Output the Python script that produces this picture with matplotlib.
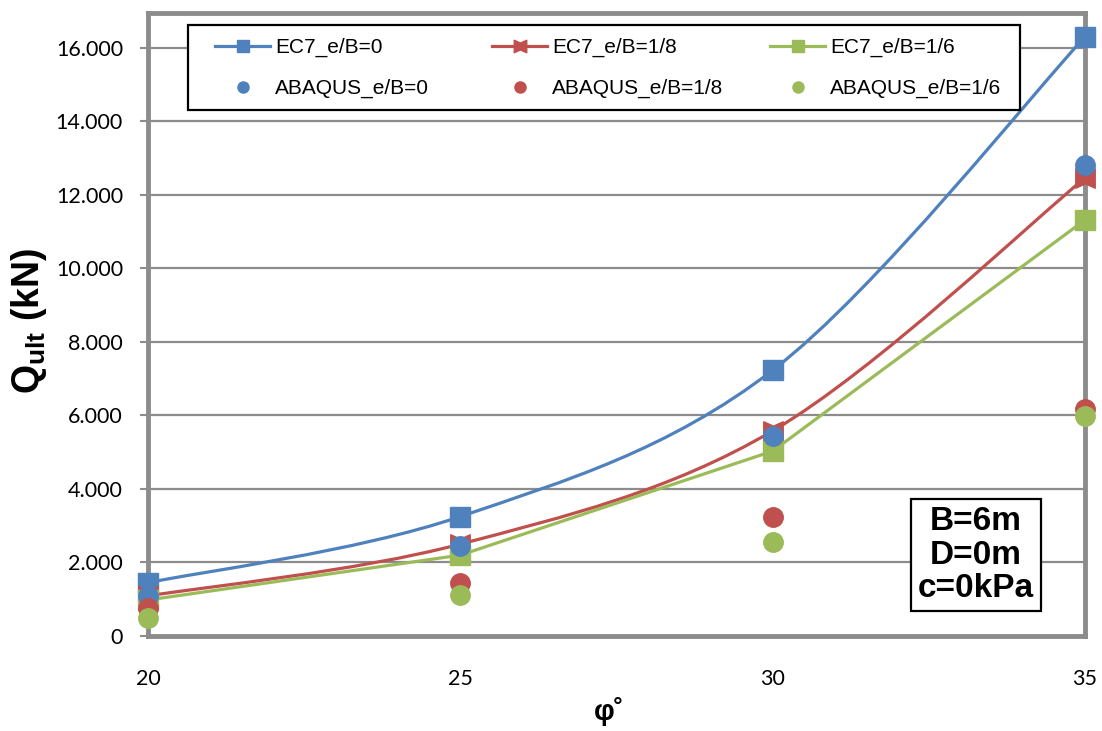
import matplotlib
matplotlib.use("Agg")
import matplotlib.pyplot as plt
from matplotlib.path import Path
from matplotlib.patches import PathPatch, Rectangle
from matplotlib.lines import Line2D
import numpy as np

# Friction angle (degrees)
phi = [20, 25, 30, 35]

# Ultimate bearing capacity Q_ult (kN), EC7 analytical
ec7_e0 = [1450, 3250, 7230, 16300]
ec7_e18 = [1090, 2500, 5580, 12460]
ec7_e16 = [980, 2200, 5030, 11320]

# Ultimate bearing capacity Q_ult (kN), ABAQUS numerical
abq_e0 = [1090, 2440, 5440, 12820]
abq_e18 = [760, 1440, 3230, 6170]
abq_e16 = [490, 1110, 2550, 5990]

y_ticks = [0, 2000, 4000, 6000, 8000, 10000, 12000, 14000, 16000]
y_tick_labels = ["0", "2.000", "4.000", "6.000", "8.000", "10.000",
                 "12.000", "14.000", "16.000"]
x_ticks = [20, 25, 30, 35]

BLUE = "#4F81BD"
RED = "#C0504D"
GREEN = "#9BBB59"
GRID = "#8C8C8C"

plt.rcParams["mathtext.fontset"] = "custom"
plt.rcParams["mathtext.bf"] = "Liberation Sans:bold"
plt.rcParams["mathtext.rm"] = "Liberation Sans"

W, H = 1102, 731


def smooth_path(xs, ys):
    """Bezier path through the points with spreadsheet-style smoothing."""
    pts = np.column_stack([xs, ys]).astype(float)
    n = len(pts)
    verts = [pts[0]]
    codes = [Path.MOVETO]
    for i in range(n - 1):
        p_prev = pts[i - 1] if i > 0 else pts[i]
        p0 = pts[i]
        p1 = pts[i + 1]
        p_next = pts[i + 2] if i + 2 < n else pts[i + 1]
        c1 = p0 + (p1 - p_prev) / 6.0
        c2 = p1 - (p_next - p0) / 6.0
        verts += [c1, c2, p1]
        codes += [Path.CURVE4] * 3
    return Path(verts, codes)


# bow-tie marker for the e/B=1/8 series
bowtie = Path([(-1, -1), (0, -0.55), (1, -1), (1, 1), (0, 0.55), (-1, 1), (-1, -1)],
              [Path.MOVETO] + [Path.LINETO] * 5 + [Path.CLOSEPOLY])

fig = plt.figure(figsize=(W / 100, H / 100), dpi=100)
ax = fig.add_axes([148 / W, 95 / H, 937 / W, 623 / H])

ax.set_xlim(20, 35)
ax.set_ylim(0, 16950)

# EC7 curves
ax.add_patch(PathPatch(smooth_path(phi, ec7_e0), facecolor="none",
                       edgecolor=BLUE, lw=2.3, zorder=3, clip_on=False))
ax.plot(phi, ec7_e0, ls="none", marker="s", ms=14, color=BLUE,
        zorder=3.1, clip_on=False)
ax.add_patch(PathPatch(smooth_path(phi, ec7_e18), facecolor="none",
                       edgecolor=RED, lw=2.3, zorder=3.2, clip_on=False))
ax.plot(phi, ec7_e18, ls="none", marker=bowtie, ms=14, color=RED,
        zorder=3.3, clip_on=False)
ax.plot(phi, ec7_e16, ls="-", lw=2.3, marker="s", ms=14, color=GREEN,
        zorder=3.4, clip_on=False)

# ABAQUS results
ax.plot(phi, abq_e0, ls="none", marker="o", ms=14, color=BLUE,
        zorder=4, clip_on=False)
ax.plot(phi, abq_e18, ls="none", marker="o", ms=14, color=RED,
        zorder=4, clip_on=False)
ax.plot(phi, abq_e16, ls="none", marker="o", ms=14, color=GREEN,
        zorder=4.1, clip_on=False)

# axes styling
ax.set_yticks(y_ticks)
ax.set_yticklabels(y_tick_labels)
ax.set_xticks(x_ticks)
ax.set_xticklabels([str(v) for v in x_ticks])
ax.yaxis.grid(True, color=GRID, lw=1.6)
ax.set_axisbelow(True)
for side in ["left", "bottom", "top", "right"]:
    ax.spines[side].set_color(GRID)
    ax.spines[side].set_linewidth(3.5)
ax.tick_params(axis="y", direction="out", length=6, width=1.5, color=GRID,
               labelsize=15.5, pad=12)
ax.tick_params(axis="x", direction="out", length=0, labelsize=15.5, pad=24)
for lab in ax.get_xticklabels() + ax.get_yticklabels():
    lab.set_fontfamily("Lato")

fig.text(29 / W, 1 - 321 / H, r"$\mathbf{Q_{ult}}$ (kN)", rotation=90,
         ha="center", va="center", fontsize=27, fontweight="bold",
         fontfamily="Liberation Sans")
fig.text(609 / W, 1 - 712 / H, "φ˚", ha="center", va="center", fontsize=21,
         fontweight="bold", fontfamily="Liberation Sans")

# legend: three equally spaced columns inside one frame
columns = [
    (215, [Line2D([], [], color=BLUE, lw=2.3, marker="s", ms=9),
           Line2D([], [], color=BLUE, ls="none", marker="o", ms=8)],
     ["EC7_e/B=0", "ABAQUS_e/B=0"]),
    (492, [Line2D([], [], color=RED, lw=2.3, marker=bowtie, ms=9),
           Line2D([], [], color=RED, ls="none", marker="o", ms=8)],
     ["EC7_e/B=1/8", "ABAQUS_e/B=1/8"]),
    (770, [Line2D([], [], color=GREEN, lw=2.3, marker="s", ms=9),
           Line2D([], [], color=GREEN, ls="none", marker="o", ms=8)],
     ["EC7_e/B=1/6", "ABAQUS_e/B=1/6"]),
]
for x0, hs, ls in columns:
    fig.legend(hs, ls, loc="upper left", bbox_to_anchor=(x0 / W, 1 - 38 / H),
               bbox_transform=fig.transFigure, frameon=False,
               handlelength=2.65, handletextpad=0.25, borderpad=0,
               borderaxespad=0, labelspacing=1.05,
               prop={"family": "Liberation Sans", "size": 15})
fig.patches.append(Rectangle((188 / W, 1 - 110 / H), 832 / W, 85 / H,
                             transform=fig.transFigure, facecolor="white",
                             edgecolor="black", lw=1.6, zorder=5))

# footing parameters
fig.text(976 / W, 1 - 555 / H, "B=6m\nD=0m\nc=0kPa", ha="center",
         va="center", fontsize=24, fontweight="bold",
         fontfamily="Liberation Sans", linespacing=1.1,
         bbox=dict(boxstyle="square,pad=0.2", facecolor="white",
                   edgecolor="black", lw=1.6), zorder=10)

fig.savefig("out.png", dpi=100)
